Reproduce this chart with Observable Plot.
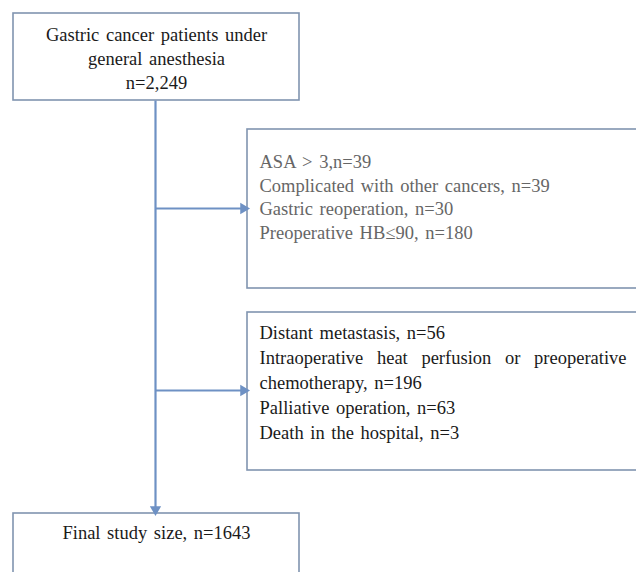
<!DOCTYPE html>
<html>
<head>
<meta charset="utf-8">
<script src="https://cdn.jsdelivr.net/npm/d3@7"></script>
<script src="https://cdn.jsdelivr.net/npm/@observablehq/plot@0.6"></script>
<style>
  html, body { margin: 0; padding: 0; background: #fff; overflow: hidden; }
</style>
</head>
<body>
<div id="chart"></div>
<script>
// ---- data ----
const enrolledLines = ["Gastric cancer patients under", "general anesthesia", "n=2,249"];
const exclusionStep1 = ["ASA > 3,n=39", "Complicated with other cancers, n=39", "Gastric reoperation, n=30", "Preoperative HB\u226490, n=180"];
const exclusionStep2 = ["Distant metastasis, n=56", "Intraoperative heat perfusion or preoperative", "chemotherapy, n=196", "Palliative operation, n=63", "Death in the hospital, n=3"];
const finalLines = ["Final study size, n=1643"];

// ---- layout (pixel space) ----
const W = 636, H = 572;
const boxes = [
  {id: "top", x1: 13, x2: 299, y1: 13, y2: 100},
  {id: "ex1", x1: 247, x2: 660, y1: 129, y2: 288},
  {id: "ex2", x1: 247, x2: 660, y1: 312, y2: 470},
  {id: "final", x1: 13, x2: 299, y1: 513, y2: 620}
];
const spineX = 155;
const links = [
  {x1: spineX, y1: 100, x2: spineX, y2: 507},
  {x1: spineX, y1: 208, x2: 241, y2: 208},
  {x1: spineX, y1: 390, x2: 241, y2: 390}
];
const heads = [
  {x: 243, y: 208, rotate: 90},
  {x: 243, y: 390, rotate: 90},
  {x: spineX, y: 509, rotate: 180}
];

const centerText = [
  ...enrolledLines.map((t, i) => ({t, x: 156, y: 35 + i * 24, c: "#1a1a1a"})),
  ...finalLines.map((t, i) => ({t, x: 156, y: 533 + i * 24, c: "#1a1a1a"}))
];
const leftText = [
  ...exclusionStep1.map((t, i) => ({t, x: 259, y: 162 + i * 23.5, c: "#666666"})),
  ...exclusionStep2.map((t, i) => ({t, x: 259, y: 333 + i * 24.8, c: "#1a1a1a"}))
];

const lineColor = "#6e91c4";
const boxColor = "#8094b0";

const plot = Plot.plot({
  width: W,
  height: H,
  margin: 0,
  x: {domain: [0, W], range: [0, W], axis: null},
  y: {domain: [0, H], range: [0, H], axis: null},
  style: {background: "#fff", fontFamily: "'Liberation Serif', 'Times New Roman', serif"},
  marks: [
    Plot.rect(boxes, {x1: "x1", x2: "x2", y1: "y1", y2: "y2", fill: "white", stroke: boxColor, strokeWidth: 1.6}),
    Plot.link(links, {x1: "x1", y1: "y1", x2: "x2", y2: "y2", stroke: lineColor, strokeWidth: 2.2}),
    Plot.dot(heads, {x: "x", y: "y", rotate: "rotate", symbol: "triangle", r: 4.2, fill: lineColor, stroke: "none"}),
    Plot.text(centerText, {x: "x", y: "y", text: "t", fill: "c", fontSize: 18.5, textAnchor: "middle"}),
    Plot.text(leftText, {x: "x", y: "y", text: "t", fill: "c", fontSize: 18.5, textAnchor: "start"})
  ]
});
document.getElementById("chart").appendChild(plot);

// add a little word spacing like the source, and justify the long wrapped line
d3.select(plot).selectAll("text").attr("word-spacing", 2);
d3.select(plot).selectAll("text").filter(function() { return this.textContent === exclusionStep2[1]; })
  .each(function() {
    this.setAttribute("word-spacing", 0);
    const len = this.getComputedTextLength();
    const gaps = (this.textContent.match(/ /g) || []).length;
    this.setAttribute("word-spacing", Math.max(0, (367 - len) / gaps));
  });
</script>
</body>
</html>
